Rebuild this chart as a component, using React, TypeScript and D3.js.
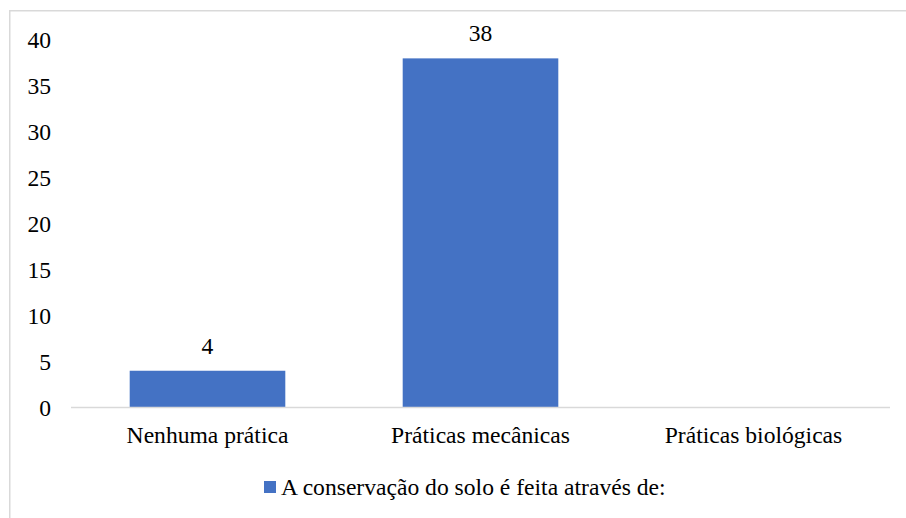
import React from "react";
import * as d3 from "d3";

const categories = ["Nenhuma prática", "Práticas mecânicas", "Práticas biológicas"];
const values: (number | null)[] = [4, 38, null];
const yTicks = [0, 5, 10, 15, 20, 25, 30, 35, 40];
const seriesName = "A conservação do solo é feita através de:";

const W = 906;
const H = 518;
const FONT = "Liberation Serif";
const FS = 23.6;
const BLUE = "#4472c4";

export default function App() {
  const x = d3.scaleBand<string>().domain(categories).range([71, 890]).paddingInner(0.43).paddingOuter(0.215);
  const y = d3.scaleLinear().domain([0, 40]).range([407.5, 40]);

  return (
    <svg width={W} height={H} fontFamily={FONT} fontSize={FS} style={{ position: "absolute", left: 0, top: 0 }}>
      <rect x={0} y={0} width={W} height={H} fill="#fff" />
      <rect x={9.75} y={10.75} width={W + 20} height={H + 20} fill="none" stroke="#d9d9d9" strokeWidth={1.5} />
      {yTicks.map((t) => (
        <text key={t} x={51} y={y(t)} dy="0.35em" textAnchor="end" fontFamily={FONT} fill="#000">
          {t}
        </text>
      ))}
      {categories.map((c, i) => {
        const v = values[i];
        if (v == null) return null;
        return (
          <g key={c}>
            <rect x={x(c)!} y={y(v)} width={x.bandwidth()} height={y(0) - y(v)} fill={BLUE} />
            <text x={x(c)! + x.bandwidth() / 2} y={y(v) - 17} textAnchor="middle" fontFamily={FONT} fill="#000">
              {v}
            </text>
          </g>
        );
      })}
      <line x1={71} x2={890} y1={407.5} y2={407.5} stroke="#d9d9d9" strokeWidth={1.5} />
      {categories.map((c) => (
        <text key={c} x={x(c)! + x.bandwidth() / 2} y={443} textAnchor="middle" fontFamily={FONT} fill="#000">
          {c}
        </text>
      ))}
      <rect x={264} y={481} width={12} height={12} fill={BLUE} />
      <text x={281} y={495} fontFamily={FONT} fill="#000">
        {seriesName}
      </text>
    </svg>
  );
}
